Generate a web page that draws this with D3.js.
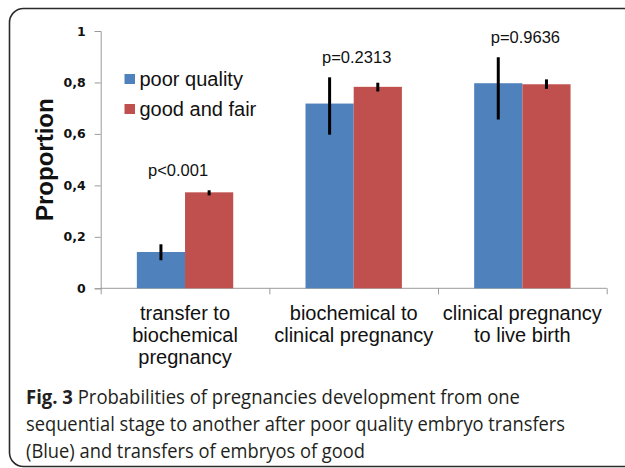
<!DOCTYPE html>
<html>
<head>
<meta charset="utf-8">
<script src="https://cdn.jsdelivr.net/npm/d3@7"></script>
<style>
  html, body { margin: 0; padding: 0; background: #fff; }
  svg { display: block; }
</style>
</head>
<body>
<svg id="chart" width="625" height="468"></svg>
<script>
// ---- data ----
const categories = [
  ["transfer to", "biochemical", "pregnancy"],
  ["biochemical to", "clinical pregnancy"],
  ["clinical pregnancy", "to live birth"]
];
const seriesNames = ["poor quality", "good and fair"];
const poorValues = [0.141, 0.718, 0.797];
const goodValues = [0.373, 0.783, 0.793];
const poorErrLow = [0.109, 0.597, 0.656];
const poorErrHigh = [0.171, 0.820, 0.898];
const goodErrLow = [0.361, 0.765, 0.775];
const goodErrHigh = [0.381, 0.799, 0.812];
const pLabels = ["p<0.001", "p=0.2313", "p=0.9636"];
const yTickValues = [0, 0.2, 0.4, 0.6, 0.8, 1];
const yTickLabels = ["0", "0,2", "0,4", "0,6", "0,8", "1"];
const yTitle = "Proportion";
const captionBold = "Fig. 3";
const captionLines = [
  " Probabilities of pregnancies development from one",
  "sequential stage to another after poor quality embryo transfers",
  "(Blue) and transfers of embryos of good"
];

// ---- layout ----
const colors = ["#4F81BD", "#C0504D"];
const svg = d3.select("#chart");

// frame
svg.append("rect")
  .attr("x", 9.5).attr("y", 8.5)
  .attr("width", 700).attr("height", 458)
  .attr("rx", 14).attr("ry", 14)
  .attr("fill", "none").attr("stroke", "#2a2a2a").attr("stroke-width", 1.6);

const x = d3.scaleBand().domain(d3.range(categories.length)).range([100.7, 606.7]).padding(0);
const bw = x.bandwidth() / 3.5;
const xs = d3.scaleBand().domain([0, 1]).range([0, 2 * bw]);
const y = d3.scaleLinear().domain([0, 1]).range([288.3, 31]);

const axisColor = "#9a9a9a";

// y axis
const yAxis = d3.axisLeft(y).tickValues(yTickValues)
  .tickFormat((d, i) => yTickLabels[i]).tickSize(6).tickPadding(9);
const gy = svg.append("g").attr("transform", "translate(100.7,0)").call(yAxis);
gy.select(".domain").attr("stroke", axisColor);
gy.selectAll(".tick line").attr("stroke", axisColor);
gy.selectAll(".tick text")
  .attr("font-family", "DejaVu Sans, Verdana, sans-serif")
  .attr("font-weight", "bold").attr("font-size", 12.5).attr("fill", "#111");

// x axis
const xAxisLine = d3.axisBottom(d3.scaleLinear().domain([0, categories.length]).range([100.7, 606.7]))
  .tickValues(d3.range(categories.length + 1)).tickSize(6).tickFormat("");
const gx = svg.append("g").attr("transform", "translate(0,288.3)").call(xAxisLine);
gx.select(".domain").attr("stroke", axisColor).attr("d", "M100.7,0H606.7");
gx.selectAll(".tick line").attr("stroke", axisColor);

// bars
const seriesValues = [poorValues, goodValues];
const errLows = [poorErrLow, goodErrLow];
const errHighs = [poorErrHigh, goodErrHigh];
const barData = [];
categories.forEach((c, i) => {
  seriesValues.forEach((vals, s) => {
    barData.push({ i, s, v: vals[i], lo: errLows[s][i], hi: errHighs[s][i] });
  });
});
const barX = d => x(d.i) + (x.bandwidth() - 2 * bw) / 2 + xs(d.s);

svg.append("g").selectAll("rect").data(barData).join("rect")
  .attr("x", barX)
  .attr("y", d => y(d.v))
  .attr("width", bw)
  .attr("height", d => y(0) - y(d.v))
  .attr("fill", d => colors[d.s]);

// error bars
svg.append("g").selectAll("line").data(barData).join("line")
  .attr("x1", d => barX(d) + bw / 2).attr("x2", d => barX(d) + bw / 2)
  .attr("y1", d => y(d.lo)).attr("y2", d => y(d.hi))
  .attr("stroke", "#000").attr("stroke-width", 3);

// p labels
svg.append("g").selectAll("text").data(pLabels).join("text")
  .attr("x", (d, i) => x(i) + x.bandwidth() / 2 + (i === 0 ? -7 : 3))
  .attr("y", (d, i) => y(Math.max(poorErrHigh[i], goodErrHigh[i])) - 14)
  .attr("text-anchor", "middle")
  .attr("font-family", "Liberation Sans, Arial, sans-serif")
  .attr("font-size", 16.5).attr("fill", "#111")
  .text(d => d);

// category labels
const catG = svg.append("g");
categories.forEach((lines, i) => {
  const t = catG.append("text")
    .attr("x", x(i) + x.bandwidth() / 2)
    .attr("y", 320)
    .attr("text-anchor", "middle")
    .attr("font-family", "Liberation Sans, Arial, sans-serif")
    .attr("font-size", 20).attr("fill", "#111");
  lines.forEach((ln, k) => {
    t.append("tspan").attr("x", x(i) + x.bandwidth() / 2)
      .attr("dy", k === 0 ? 0 : 22).text(ln);
  });
});

// y title
svg.append("text")
  .attr("transform", `translate(53,${(y(0) + y(1)) / 2}) rotate(-90)`)
  .attr("text-anchor", "middle")
  .attr("font-family", "Liberation Sans, Arial, sans-serif")
  .attr("font-weight", "bold").attr("font-size", 24).attr("fill", "#111")
  .text(yTitle);

// legend
const leg = svg.append("g");
seriesNames.forEach((name, s) => {
  leg.append("rect").attr("x", 124.5).attr("y", 74 + s * 30)
    .attr("width", 10.5).attr("height", 10).attr("fill", colors[s]);
  leg.append("text").attr("x", 139.5).attr("y", 85.5 + s * 30)
    .attr("font-family", "Liberation Sans, Arial, sans-serif")
    .attr("font-size", 20).attr("fill", "#111").text(name);
});

// caption
const cap = svg.append("g")
  .attr("font-family", "Open Sans, sans-serif").attr("font-size", 19.5).attr("fill", "#231f20");
const capWidths = [494, 539, 339];
const l1 = cap.append("text").attr("x", 26).attr("y", 404.3)
  .attr("textLength", capWidths[0]).attr("lengthAdjust", "spacingAndGlyphs");
l1.append("tspan").attr("font-weight", "bold").text(captionBold);
l1.append("tspan").text(captionLines[0]);
cap.append("text").attr("x", 26).attr("y", 431.3)
  .attr("textLength", capWidths[1]).attr("lengthAdjust", "spacingAndGlyphs").text(captionLines[1]);
cap.append("text").attr("x", 26).attr("y", 458.3)
  .attr("textLength", capWidths[2]).attr("lengthAdjust", "spacingAndGlyphs").text(captionLines[2]);
</script>
</body>
</html>
